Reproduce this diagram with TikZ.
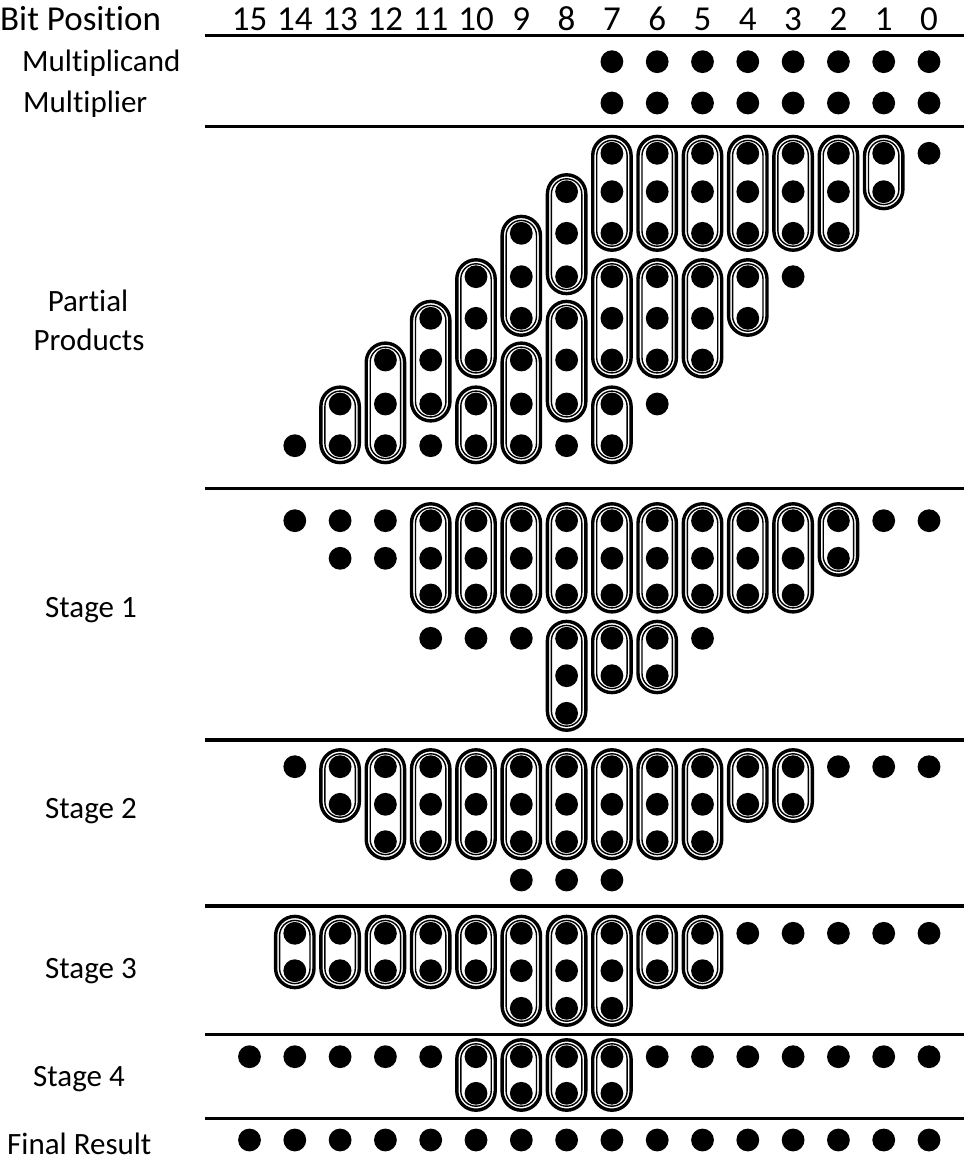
\documentclass[tikz,border=0pt]{standalone}
\usepackage{fontspec}
\setmainfont{Carlito}[Ligatures={NoCommon}]
\begin{document}
\begin{tikzpicture}[x=1pt,y=-1pt,
  lbl/.style={inner sep=0pt,font=\fontsize{31}{37}\selectfont},
  head/.style={inner sep=0pt,font=\fontsize{35}{42}\selectfont},
  rule/.style={line width=3.3pt},
  ringout/.style={line width=3.4pt,rounded corners=19.2pt},
  ringin/.style={line width=1.4pt,rounded corners=15.2pt}]
% bounding box
\useasboundingbox (0,0) rectangle (964,1161);

% a row of bits: y position, list of bit positions
\newcommand\bitrow[2]{\foreach \c in {#2}{\fill ({929-45.3*\c},#1) circle[radius=11.4pt];}}
% a counter group (full or half adder): bit position, top y, bottom y
\newcommand\addergroup[3]{%
  \draw[ringout] ({929-45.3*#1-19.2},{#2-16.9}) rectangle ({929-45.3*#1+19.2},{#3+16.9});
  \draw[ringin]  ({929-45.3*#1-15.2},{#2-12.9}) rectangle ({929-45.3*#1+15.2},{#3+12.9});}

% ---------- labels ----------
\node[head,anchor=base west] (hdr)   at (0,30.5)   {Bit Position};
\node[lbl,anchor=base west] (mcand) at (22,72)  {Multiplicand};
\node[lbl,anchor=base west] (mplier) at (23,112.5) {Multiplier};
\node[lbl,anchor=base] (pp1) at (88,311) {Partial};
\node[lbl,anchor=base] (pp2) at (89,350) {Products};
\node[lbl,anchor=base west] (st1) at (45,617)  {Stage 1};
\node[lbl,anchor=base west] (st2) at (45,818)  {Stage 2};
\node[lbl,anchor=base west] (st3) at (45,978)  {Stage 3};
\node[lbl,anchor=base west] (st4) at (33,1086) {Stage 4};
\node[lbl,anchor=base west] (fin) at (7,1154)  {Final Result};

% bit position numbers
\foreach \c in {0,...,15}{\node[head,anchor=base] (b\c) at ({929-45.3*\c},30.5) {\c};}

% ---------- separating rules ----------
\foreach \y in {35.5,126.7,488.5,740,906,1034.5,1118.3}{\draw[rule] (205,\y) -- (964,\y);}

% ---------- operands ----------
\bitrow{61.7}{0,...,7}
\bitrow{103}{0,...,7}

% ---------- partial products ----------
\def\pa{153.3}\def\pb{191.7}\def\pc{233.3}\def\pd{276.7}
\def\pe{318.3}\def\pf{360}\def\pg{404}\def\ph{445.7}
\bitrow{\pa}{0,...,7}
\bitrow{\pb}{1,...,8}
\bitrow{\pc}{2,...,9}
\bitrow{\pd}{3,...,10}
\bitrow{\pe}{4,...,11}
\bitrow{\pf}{5,...,12}
\bitrow{\pg}{6,...,13}
\bitrow{\ph}{7,...,14}
\foreach \c in {2,...,7}{\addergroup{\c}{\pa}{\pc}}
\addergroup{1}{\pa}{\pb}
\addergroup{8}{\pb}{\pd}
\addergroup{9}{\pc}{\pe}
\foreach \c in {5,6,7,10}{\addergroup{\c}{\pd}{\pf}}
\addergroup{4}{\pd}{\pe}
\foreach \c in {8,11}{\addergroup{\c}{\pe}{\pg}}
\foreach \c in {9,12}{\addergroup{\c}{\pf}{\ph}}
\foreach \c in {7,10,13}{\addergroup{\c}{\pg}{\ph}}

% ---------- stage 1 ----------
\def\sa{520.7}\def\sb{558.3}\def\sc{595}\def\sd{638.3}\def\se{675.7}\def\sf{713.3}
\bitrow{\sa}{0,...,14}
\bitrow{\sb}{2,...,13}
\bitrow{\sc}{3,...,11}
\bitrow{\sd}{5,...,11}
\bitrow{\se}{6,7,8}
\bitrow{\sf}{8}
\foreach \c in {3,...,11}{\addergroup{\c}{\sa}{\sc}}
\addergroup{2}{\sa}{\sb}
\addergroup{8}{\sd}{\sf}
\foreach \c in {6,7}{\addergroup{\c}{\sd}{\se}}

% ---------- stage 2 ----------
\def\ta{766.7}\def\tb{804.3}\def\tc{841.7}\def\td{880}
\bitrow{\ta}{0,...,14}
\bitrow{\tb}{3,...,13}
\bitrow{\tc}{5,...,12}
\bitrow{\td}{7,8,9}
\foreach \c in {5,...,12}{\addergroup{\c}{\ta}{\tc}}
\foreach \c in {3,4,13}{\addergroup{\c}{\ta}{\tb}}

% ---------- stage 3 ----------
\def\ua{933.3}\def\ub{970.7}\def\uc{1008.3}
\bitrow{\ua}{0,...,14}
\bitrow{\ub}{5,...,14}
\bitrow{\uc}{7,8,9}
\foreach \c in {7,8,9}{\addergroup{\c}{\ua}{\uc}}
\foreach \c in {5,6,10,11,12,13,14}{\addergroup{\c}{\ua}{\ub}}

% ---------- stage 4 ----------
\def\va{1056.7}\def\vb{1093.3}
\bitrow{\va}{0,...,15}
\bitrow{\vb}{7,...,10}
\foreach \c in {7,...,10}{\addergroup{\c}{\va}{\vb}}

% ---------- final result ----------
\bitrow{1140}{0,...,15}
\end{tikzpicture}
\end{document}
